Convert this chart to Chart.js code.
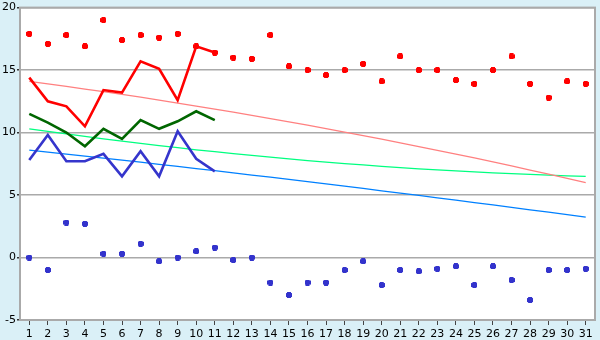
<!DOCTYPE html>
<html>
<head>
<meta charset="utf-8">
<script src="https://cdn.jsdelivr.net/npm/chart.js@4.4.0/dist/chart.umd.min.js"></script>
<style>
  html, body { margin: 0; padding: 0; background: #daf0f7; }
  #wrap { width: 600px; height: 340px; }
</style>
</head>
<body>
<div id="wrap"><canvas id="chart" width="600" height="340"></canvas></div>
<script>
// ===== Dados =====
const dias = Array.from({ length: 31 }, (_, i) => String(i + 1));
const yTicks = [-5, 0, 5, 10, 15, 20];

// pontos (máx / mín diários)
const maxPontos = [17.9, 17.1, 17.8, 16.9, 19.0, 17.4, 17.8, 17.6, 17.9, 16.9,
  16.4, 16.0, 15.9, 17.8, 15.3, 15.0, 14.6, 15.0, 15.5, 14.1,
  16.1, 15.0, 15.0, 14.2, 13.9, 15.0, 16.1, 13.9, 12.8, 14.1, 13.9];
const minPontos = [0.0, -1.0, 2.8, 2.7, 0.3, 0.3, 1.1, -0.3, 0.0, 0.5,
  0.8, -0.2, 0.0, -2.0, -3.0, -2.0, -2.0, -1.0, -0.3, -2.2,
  -1.0, -1.1, -0.9, -0.7, -2.2, -0.7, -1.8, -3.4, -1.0, -1.0, -0.9];

// linhas grossas (dias 1-11)
const linhaVermelha = [14.4, 12.5, 12.1, 10.5, 13.4, 13.2, 15.7, 15.1, 12.6, 16.9, 16.4];
const linhaVerde = [11.5, 10.8, 10.0, 8.9, 10.3, 9.5, 11.0, 10.3, 10.9, 11.7, 11.0];
const linhaAzul = [7.8, 9.8, 7.7, 7.7, 8.3, 6.5, 8.5, 6.5, 10.1, 7.9, 6.9];

// linhas finas (médias)
const mediaMax = [14.10, 13.90, 13.69, 13.48, 13.27, 13.05, 12.83, 12.60, 12.36, 12.12,
  11.88, 11.63, 11.38, 11.12, 10.86, 10.59, 10.32, 10.04, 9.76, 9.47,
  9.18, 8.88, 8.58, 8.28, 7.97, 7.65, 7.33, 7.00, 6.67, 6.34, 6.00];
const mediaMed = [10.30, 10.09, 9.89, 9.69, 9.50, 9.31, 9.13, 8.96, 8.79, 8.62,
  8.47, 8.31, 8.17, 8.03, 7.89, 7.76, 7.64, 7.52, 7.41, 7.30,
  7.20, 7.10, 7.01, 6.93, 6.85, 6.78, 6.71, 6.65, 6.59, 6.54, 6.50];
const mediaMin = [8.60, 8.44, 8.28, 8.12, 7.96, 7.79, 7.63, 7.46, 7.29, 7.12,
  6.95, 6.78, 6.60, 6.43, 6.25, 6.07, 5.89, 5.71, 5.53, 5.34,
  5.16, 4.97, 4.78, 4.60, 4.40, 4.21, 4.02, 3.82, 3.63, 3.43, 3.23];

// ===== Marcador em cruz (6x6 sem cantos) =====
function marcador(cor) {
  const c = document.createElement('canvas');
  c.width = 6; c.height = 6;
  const g = c.getContext('2d');
  g.fillStyle = cor;
  g.fillRect(1, 0, 4, 6);
  g.fillRect(0, 1, 6, 4);
  return c;
}

// ===== Fundo + moldura =====
const fundo = {
  id: 'fundo',
  beforeDraw(chart) {
    const { ctx, chartArea: a } = chart;
    ctx.save();
    ctx.fillStyle = '#daf0f7';
    ctx.fillRect(0, 0, chart.width, chart.height);
    ctx.fillStyle = '#ffffff';
    ctx.fillRect(a.left, a.top, a.right - a.left, a.bottom - a.top);
    ctx.restore();
  },
  afterDraw(chart) {
    const { ctx, chartArea: a } = chart;
    ctx.save();
    ctx.strokeStyle = '#aaaaaa';
    ctx.lineWidth = 2;
    ctx.strokeRect(a.left, a.top, a.right - a.left, a.bottom - a.top);
    ctx.restore();
  }
};

const fino = (data, cor) => ({
  data, borderColor: cor, borderWidth: 1.3, pointRadius: 0, tension: 0, order: 5, fill: false
});
const grosso = (data, cor) => ({
  data, borderColor: cor, borderWidth: 2.6, pointRadius: 0, tension: 0, order: 2, fill: false
});
const pontos = (data, cor) => ({
  data, showLine: false, pointStyle: marcador(cor), pointRadius: 3,
  pointBackgroundColor: cor, pointBorderColor: cor, order: 1
});

new Chart(document.getElementById('chart'), {
  type: 'line',
  data: {
    labels: dias,
    datasets: [
      pontos(maxPontos, '#ff0000'),
      pontos(minPontos, '#3333cc'),
      grosso(linhaVermelha, '#ff0000'),
      grosso(linhaVerde, '#006600'),
      grosso(linhaAzul, '#3535cc'),
      fino(mediaMax, '#ff8080'),
      fino(mediaMed, '#00ff80'),
      fino(mediaMin, '#0080ff')
    ]
  },
  options: {
    responsive: false,
    animation: false,
    layout: { padding: { top: 5, right: 5, left: 0, bottom: 0 } },
    plugins: { legend: { display: false }, tooltip: { enabled: false } },
    scales: {
      x: {
        offset: true,
        grid: { drawOnChartArea: false, drawTicks: true, tickLength: 5, tickColor: '#444', offset: false },
        border: { display: true, color: '#aaaaaa', width: 2 },
        ticks: { color: '#000', font: { family: 'DejaVu Sans', size: 11 }, padding: 3, maxRotation: 0, autoSkip: false },
        afterFit: s => { s.height = 20; }
      },
      y: {
        min: yTicks[0],
        max: yTicks[yTicks.length - 1],
        afterBuildTicks: s => { s.ticks = yTicks.map(v => ({ value: v })); },
        grid: { color: '#aaaaaa', lineWidth: 1.5, tickLength: 3, tickColor: '#333' },
        border: { display: true, color: '#aaaaaa', width: 2 },
        ticks: { color: '#000', font: { family: 'DejaVu Sans', size: 11 }, padding: 1 },
        afterFit: s => { s.width = 20; }
      }
    }
  },
  plugins: [fundo]
});
</script>
</body>
</html>
